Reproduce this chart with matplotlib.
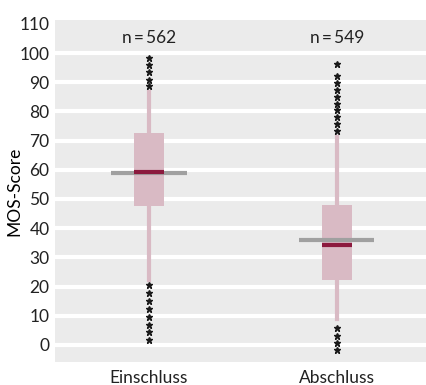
import matplotlib
matplotlib.use("Agg")
import matplotlib.pyplot as plt

# MOS-Score distribution at Einschluss vs Abschluss
groups = ["Einschluss", "Abschluss"]
n_values = [562, 549]
q1 = [47.7, 22.4]
median = [59.2, 34.4]
q3 = [72.5, 47.9]
whislo = [22.4, 8.9]
whishi = [86.8, 71.3]
means = [58.8, 36.1]
fliers = [
    [98.4, 95.9, 93.4, 90.9, 88.6, 20.5, 17.8, 15.1, 12.4, 9.7, 7.0, 4.3, 1.7],
    [96.3, 92.0, 89.6, 87.3, 85.0, 82.7, 80.4, 78.1, 75.8, 73.4, 5.7, 3.1, 0.6, -1.8],
]
yticks = list(range(0, 111, 10))

plt.rcParams['font.family'] = ['Lato', 'DejaVu Sans']
plt.rcParams['text.color'] = '#222222'
plt.rcParams['ytick.labelcolor'] = '#222222'
plt.rcParams['xtick.labelcolor'] = '#222222'

box_color = "#d9bac4"
median_color = "#8c1a3e"
mean_color = "#a0a0a0"
bg_color = "#ebebeb"

fig = plt.figure(figsize=(4.27, 3.85), dpi=100)
ax = fig.add_axes([0.129, 0.06, 0.871, 0.888])
ax.set_facecolor(bg_color)

stats = []
for i in range(len(groups)):
    stats.append({
        "label": groups[i], "q1": q1[i], "med": median[i], "q3": q3[i],
        "whislo": whislo[i], "whishi": whishi[i], "fliers": fliers[i],
    })

positions = list(range(len(groups)))
ax.bxp(stats, positions=positions, widths=0.16, patch_artist=True,
       showcaps=False, manage_ticks=False,
       boxprops=dict(facecolor=box_color, edgecolor="none"),
       whiskerprops=dict(color=box_color, linewidth=3),
       medianprops=dict(color=median_color, linewidth=3, solid_capstyle="butt", zorder=3),
       flierprops=dict(marker="*", markersize=4.5, markerfacecolor="#1a1a1a",
                       markeredgecolor="#1a1a1a", linestyle="none"))

# mean lines, wider than the boxes, below the median
ax.hlines(means, [p - 0.2 for p in positions], [p + 0.2 for p in positions],
          colors=mean_color, linewidth=3, zorder=2.5)

for p, n in zip(positions, n_values):
    ax.text(p, 105.3, "n\u2009=\u2009%d" % n, ha="center", va="center", fontsize=12.5)

ax.set_xlim(-0.5, 1.48)
ax.set_ylim(-5.8, 111.3)
ax.set_yticks(yticks)
ax.set_xticks(positions)
ax.set_xticklabels(groups, fontsize=12.5)
ax.tick_params(axis="y", labelsize=12.5, length=0, pad=4)
ax.tick_params(axis="x", length=0, pad=6)
ax.set_ylabel("MOS-Score", fontsize=12.5)
ax.yaxis.set_label_coords(-0.088, 0.5)

ax.grid(axis="y", color="white", linewidth=3)
ax.get_ygridlines()[-1].set_visible(False)
ax.set_axisbelow(True)
for s in ax.spines.values():
    s.set_visible(False)

fig.savefig("out.png", dpi=100)
